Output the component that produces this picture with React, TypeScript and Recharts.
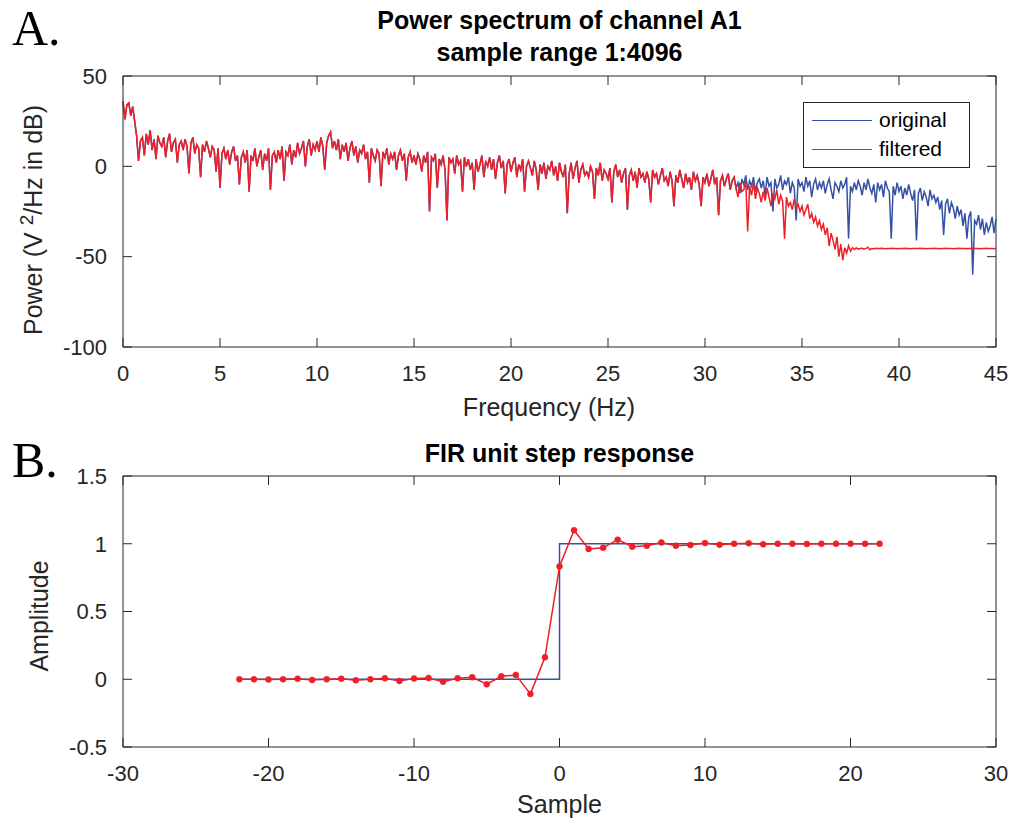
import React from "react";
import { LineChart, Line, XAxis, YAxis, ReferenceLine, Legend } from "recharts";

// spectrum sampled every 0.1 Hz, 0 .. 45 Hz (451 points), one row per Hz
const FREQ_STEP = 0.1;
const originalPower = [
  36, 26, 34, 35, 28, 33, 25, 17, 3, 14,
  16, 6, 18, 12, 20, 9, 15, 4, 17, 13,
  11, 16, 5, 14, 18, 8, 13, 15, 2, 12,
  14, 9, 15, 11, -4, 13, 16, 7, 12, 10,
  -6, 12, 8, 14, 10, 5, 11, 9, -3, 10,
  -12, 7, 10, 4, 9, 1, 8, 11, 3, 6,
  -10, 5, 8, 2, 9, -14, 6, 3, 10, 0,
  5, 9, -2, 7, 3, 10, -13, 6, 8, 2,
  9, 4, 11, -8, 8, 6, 12, 1, 9, 5,
  13, 7, 10, 14, 0, 11, 15, 6, 12, 9,
  14, 8, 16, 11, -2, 13, 17, 19, 10, 14,
  9, 15, 4, 12, 8, 13, 3, 10, 14, 6,
  11, 2, 9, 7, 12, 4, 8, -9, 10, 6,
  3, 9, 7, -11, 8, 5, 10, 1, 7, 4,
  8, -2, 6, 9, 3, 7, -8, 5, 8, 2,
  6, 1, 7, 4, -3, 6, 2, 8, -25, 5,
  3, 7, -12, 4, 1, 6, -2, -30, 5, 2,
  4, -4, 6, 1, 3, -14, 5, 0, 4, -2,
  2, -13, 4, -3, 1, 6, -6, 3, 0, 5,
  -2, 4, -7, 2, 6, -1, 3, -15, 1, 4,
  -3, 2, 5, -6, 1, -2, 4, -14, 0, 3,
  -1, -5, 3, -2, -13, 1, -4, 2, -7, 0,
  -2, 3, -5, 0, -8, 2, -3, -6, 1, -26,
  -4, 2, -7, -1, 3, -9, -2, 1, -5, -3,
  -6, 0, -3, -18, -1, -5, 2, -8, -2, -4,
  -7, -1, -20, -3, 1, -6, -2, -9, -4, -1,
  -24, -5, -2, -8, -3, -12, -1, -6, -4, -9,
  -3, -7, -20, -2, -6, -4, -10, -5, -1, -8,
  -6, -11, -3, -8, -22, -5, -9, -2, -7, -12,
  -4, -9, -6, -13, -3, -8, -5, -10, -22, -6,
  -9, -4, -11, -7, -2, -10, -6, -27, -8, -5,
  -11, -7, -4, -13, -8, -6, -12, -9, -15, -7,
  -10, -5, -13, -8, -11, -6, -14, -9, -7, -12,
  -8, -16, -6, -11, -9, -25, -7, -12, -10, -5,
  -13, -8, -10, -6, -15, -9, -12, -30, -7, -11,
  -9, -14, -6, -11, -8, -17, -10, -7, -13, -9,
  -12, -8, -15, -10, -7, -13, -18, -9, -11, -14,
  -8, -12, -10, -6, -40, -11, -14, -9, -13, -8,
  -11, -16, -9, -13, -7, -12, -15, -10, -20, -9,
  -13, -10, -17, -8, -12, -14, -40, -11, -16, -9,
  -14, -11, -18, -12, -16, -10, -15, -19, -13, -41,
  -15, -12, -19, -14, -17, -22, -13, -18, -16, -20,
  -17, -24, -19, -38, -21, -18, -26, -20, -23, -29,
  -22, -27, -24, -33, -26, -40, -28, -25, -60, -30,
  -32, -27, -35, -29, -38, -31, -36, -33, -28, -37,
  -29,
];
// filtered output departs from the original at 31.6 Hz
const TAIL_START = 316;
const filteredTail = [
  -12, -17, -9, -14,
  -13, -8, -36, -11, -16, -9, -18, -12, -15, -20,
  -14, -19, -12, -17, -22, -15, -18, -13, -21, -16,
  -19, -40, -17, -22, -20, -24, -18, -23, -21, -25,
  -22, -27, -24, -21, -29, -26, -31, -28, -33, -30,
  -35, -32, -38, -34, -44, -37, -41, -46, -39, -50,
  -43, -52, -45, -48, -44, -47, -45, -46, -45.2, -45.8,
  -45.5, -45.3, -45.7, -45.4, -44.8, -46.2, -45.5, -45.6, -45.4, -45.5,
  -45.5, -45.4, -45.5, -45.6, -45.5, -45.5, -45.4, -45.5, -45.5, -45.6,
  -45.5, -45.5, -45.5, -45.4, -45.5, -45.5, -45.6, -45.5, -45.5, -45.5,
  -45.5, -45.4, -45.5, -45.5, -45.6, -45.5, -45.5, -45.5, -45.4, -45.5,
  -45.5, -45.6, -45.5, -45.5, -45.4, -45.5, -45.5, -45.5, -45.6, -45.5,
  -45.5, -45.4, -45.5, -45.5, -45.5, -45.6, -45.5, -45.5, -45.4, -45.5,
  -45.5, -45.5, -45.6, -45.5, -45.5, -45.4, -45.5, -45.5, -45.5, -45.6,
  -45.5,
];
const freqTicks = [0, 5, 10, 15, 20, 25, 30, 35, 40, 45];
const powerTicks = [-100, -50, 0, 50];

const samples = [
  -22, -21, -20, -19, -18, -17, -16, -15, -14, -13, -12, -11, -10, -9, -8, -7, -6, -5, -4, -3, -2, -1,
  0, 1, 2, 3, 4, 5, 6, 7, 8, 9, 10, 11, 12, 13, 14, 15, 16, 17, 18, 19, 20, 21, 22,
];
const stepValues = [
  0, 0, 0, 0, 0, 0, 0, 0, 0, 0, 0, 0, 0, 0, 0, 0, 0, 0, 0, 0, 0, 0,
  1, 1, 1, 1, 1, 1, 1, 1, 1, 1, 1, 1, 1, 1, 1, 1, 1, 1, 1, 1, 1, 1, 1,
];
const responseValues = [
  0, 0, -0.002, 0, 0.004, -0.005, 0, 0.004, -0.008, 0, 0.007, -0.013, 0.005, 0.009, -0.018, 0.007, 0.015, -0.037, 0.022, 0.032, -0.108, 0.162,
  0.833, 1.1, 0.962, 0.97, 1.03, 0.978, 0.985, 1.01, 0.986, 0.99, 1.005, 0.993, 1.0, 1.004, 0.996, 1.0, 1.0, 0.998, 1.0, 1.0, 1.0, 1.0, 1.0,
];
const sampleTicks = [-30, -20, -10, 0, 10, 20, 30];
const ampTicks = [-0.5, 0, 0.5, 1, 1.5];

const spectrumData = originalPower.map((v, i) => ({
  f: Number((i * FREQ_STEP).toFixed(1)),
  original: v,
  filtered: i < TAIL_START ? v : filteredTail[i - TAIL_START],
}));
const stepData = samples.map((n, i) => ({ n, step: stepValues[i], resp: responseValues[i] }));

const AXIS = "#262626";
const BLUE = "#3452a4";
const RED = "#ee1f26";
const SANS = "'Liberation Sans', Arial, Helvetica, sans-serif";
const W = 1020;
const LEFT = 123;
const RIGHT = 996;
const TICK = 9;

// inward ticks on bottom and top edges, label below
const xTick = (top: number) => (props: any) => {
  const { x, y, payload } = props;
  return (
    <g>
      <line x1={x} x2={x} y1={y} y2={y - TICK} stroke={AXIS} />
      <line x1={x} x2={x} y1={top} y2={top + TICK} stroke={AXIS} />
      <text x={x} y={y + 18} dy="0.71em" textAnchor="middle" fill={AXIS} fontSize={22} fontFamily={SANS}>
        {payload.value}
      </text>
    </g>
  );
};

// inward ticks on left and right edges
const yTick = (props: any) => {
  const { y, payload } = props;
  return (
    <g>
      <line x1={LEFT} x2={LEFT + TICK} y1={y} y2={y} stroke={AXIS} />
      <line x1={RIGHT} x2={RIGHT - TICK} y1={y} y2={y} stroke={AXIS} />
      <text x={LEFT - 16} y={y} dy="0.355em" textAnchor="end" fill={AXIS} fontSize={22} fontFamily={SANS}>
        {payload.value}
      </text>
    </g>
  );
};

const legendBox = () => (
  <div style={{ width: 167, height: 66, boxSizing: "border-box", border: `1px solid ${AXIS}`, background: "#fff", position: "relative", fontFamily: SANS, fontSize: 21, color: "#000" }}>
    <div style={{ position: "absolute", left: 8, top: 17, width: 60, borderTop: `1.5px solid ${BLUE}` }} />
    <div style={{ position: "absolute", left: 75, top: 5, lineHeight: "24px" }}>original</div>
    <div style={{ position: "absolute", left: 8, top: 46, width: 60, borderTop: `1.5px solid ${RED}` }} />
    <div style={{ position: "absolute", left: 75, top: 34, lineHeight: "24px" }}>filtered</div>
  </div>
);

export default function App() {
  return (
    <div style={{ position: "absolute", left: 0, top: 0, width: W, height: 821, background: "#fff" }}>
      <div style={{ position: "absolute", left: 0, top: 0 }}>
        <LineChart width={W} height={420} data={spectrumData} margin={{ top: 76, right: W - RIGHT, bottom: 72, left: LEFT - 1 }}>
          <XAxis dataKey="f" type="number" domain={[0, 45]} ticks={freqTicks} height={1} tickSize={0} tickMargin={0}
            tickLine={false} axisLine={{ stroke: AXIS }} tick={xTick(76)} interval={0} />
          <YAxis type="number" domain={[-100, 50]} ticks={powerTicks} width={1} tickSize={0} tickMargin={0}
            tickLine={false} axisLine={{ stroke: AXIS }} tick={yTick} interval={0} />
          <ReferenceLine y={50} stroke={AXIS} />
          <ReferenceLine x={45} stroke={AXIS} />
          <Line type="linear" dataKey="original" name="original" stroke={BLUE} strokeWidth={1.5} dot={false} isAnimationActive={false} />
          <Line type="linear" dataKey="filtered" name="filtered" stroke={RED} strokeWidth={1.5} dot={false} isAnimationActive={false} />
          <Legend layout="horizontal" verticalAlign="middle" align="center" content={legendBox}
            wrapperStyle={{ left: 803, top: 102, width: 167, height: 66 }} />
        </LineChart>
      </div>
      <div style={{ position: "absolute", left: 0, top: 420 }}>
        <LineChart width={W} height={401} data={stepData} margin={{ top: 56, right: W - RIGHT, bottom: 73, left: LEFT - 1 }}>
          <XAxis dataKey="n" type="number" domain={[-30, 30]} ticks={sampleTicks} height={1} tickSize={0} tickMargin={0}
            tickLine={false} axisLine={{ stroke: AXIS }} tick={xTick(56)} interval={0} />
          <YAxis type="number" domain={[-0.5, 1.5]} ticks={ampTicks} width={1} tickSize={0} tickMargin={0}
            tickLine={false} axisLine={{ stroke: AXIS }} tick={yTick} interval={0} />
          <ReferenceLine y={1.5} stroke={AXIS} />
          <ReferenceLine x={30} stroke={AXIS} />
          <Line type="stepAfter" dataKey="step" stroke={BLUE} strokeWidth={1.5} dot={false} isAnimationActive={false} />
          <Line type="linear" dataKey="resp" stroke={RED} strokeWidth={1.5} dot={{ r: 3, fill: RED, stroke: RED, strokeWidth: 0.5 }} isAnimationActive={false} />
        </LineChart>
      </div>
      <svg width={W} height={821} style={{ position: "absolute", left: 0, top: 0, pointerEvents: "none" }}>
        <text x={12} y={45} fontFamily="'Liberation Serif', 'Times New Roman', serif" fontSize={50}>A.</text>
        <text x={12} y={477} fontFamily="'Liberation Serif', 'Times New Roman', serif" fontSize={50}>B.</text>
        <text x={559.5} y={29} textAnchor="middle" fontFamily={SANS} fontSize={25} fontWeight="bold">Power spectrum of channel A1</text>
        <text x={559.5} y={61} textAnchor="middle" fontFamily={SANS} fontSize={25} fontWeight="bold">sample range 1:4096</text>
        <text x={559.5} y={462} textAnchor="middle" fontFamily={SANS} fontSize={25} fontWeight="bold">FIR unit step response</text>
        <text x={549} y={416} textAnchor="middle" fontFamily={SANS} fontSize={25} fill={AXIS}>Frequency (Hz)</text>
        <text x={559.5} y={813} textAnchor="middle" fontFamily={SANS} fontSize={25} fill={AXIS}>Sample</text>
        <text x={42} y={220} transform="rotate(-90 42 220)" textAnchor="middle" fontFamily={SANS} fontSize={25} fill={AXIS}>
          Power (V <tspan dy={-9} fontSize={19}>2</tspan><tspan dy={9}>/Hz in dB)</tspan>
        </text>
        <text x={48} y={616} transform="rotate(-90 48 616)" textAnchor="middle" fontFamily={SANS} fontSize={25} fill={AXIS}>Amplitude</text>
      </svg>
    </div>
  );
}
